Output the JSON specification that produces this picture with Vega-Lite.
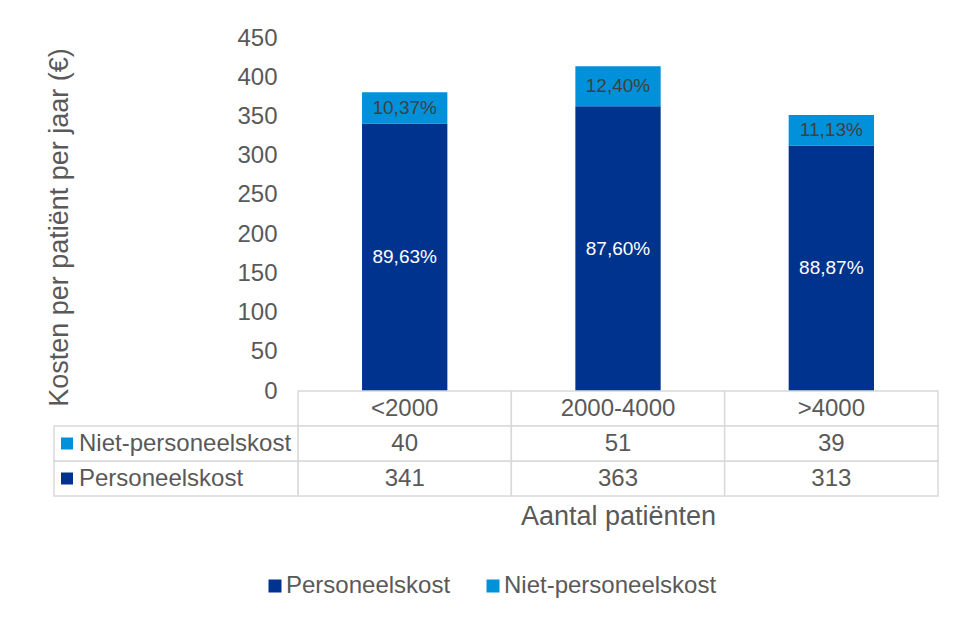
{
  "$schema": "https://vega.github.io/schema/vega-lite/v6.json",
  "background": "white",
  "autosize": {"type": "pad"},
  "padding": {"left": 45, "top": 26, "right": 5, "bottom": 5},
  "config": {"font": "Liberation Sans", "view": {"stroke": null}},
  "data": {
    "values": [
      {"cat": "<2000", "reeks": "Personeelskost", "kost": 341, "aandeel": "89,63%"},
      {"cat": "<2000", "reeks": "Niet-personeelskost", "kost": 40, "aandeel": "10,37%"},
      {"cat": "2000-4000", "reeks": "Personeelskost", "kost": 363, "aandeel": "87,60%"},
      {"cat": "2000-4000", "reeks": "Niet-personeelskost", "kost": 51, "aandeel": "12,40%"},
      {"cat": ">4000", "reeks": "Personeelskost", "kost": 313, "aandeel": "88,87%"},
      {"cat": ">4000", "reeks": "Niet-personeelskost", "kost": 39, "aandeel": "11,13%"}
    ]
  },
  "spacing": 0,
  "bounds": "flush",
  "resolve": {"scale": {"x": "independent", "y": "independent", "color": "shared"}},
  "vconcat": [
    {
      "width": 884,
      "height": 353,
      "encoding": {
        "x": {
          "field": "cat", "type": "nominal",
          "scale": {"domain": ["<2000", "2000-4000", ">4000"], "paddingInner": 0, "paddingOuter": 0.572, "align": 1},
          "axis": null
        }
      },
      "layer": [
        {
          "mark": {"type": "bar", "width": {"band": 0.4}},
          "encoding": {
            "y": {
              "field": "kost", "type": "quantitative", "stack": "zero",
              "scale": {"domain": [0, 450], "nice": false},
              "axis": {
                "values": [0, 50, 100, 150, 200, 250, 300, 350, 400, 450],
                "labelOverlap": false,
                "title": "Kosten per patiënt per jaar (€)",
                "offset": -244,
                "grid": false, "domain": false, "ticks": false,
                "labelFontSize": 24, "labelColor": "#595959", "labelPadding": 21,
                "titleFontSize": 27, "titleColor": "#595959", "titleFontWeight": "normal",
                "titleAngle": 270, "titleAlign": "center", "titleBaseline": "bottom",
                "titleX": -225, "titleY": 189
              }
            },
            "color": {
              "field": "reeks", "type": "nominal",
              "scale": {"domain": ["Personeelskost", "Niet-personeelskost"], "range": ["#00338D", "#0091DA"]},
              "legend": {
                "orient": "none", "legendX": 209, "legendY": 536, "direction": "horizontal",
                "title": null, "symbolType": "square", "symbolSize": 169, "symbolStrokeWidth": 0,
                "labelFontSize": 24, "labelColor": "#595959", "labelLimit": 400, "labelOffset": -1,
                "columnPadding": 30, "padding": 0
              }
            },
            "order": {"field": "reeks", "sort": "descending"}
          }
        },
        {
          "transform": [
            {"stack": "kost", "groupby": ["cat"], "sort": [{"field": "reeks", "order": "descending"}], "as": ["y0", "y1"]},
            {"calculate": "(datum.y0 + datum.y1) / 2", "as": "ymid"}
          ],
          "mark": {"type": "text", "fontSize": 19, "baseline": "middle"},
          "encoding": {
            "y": {
              "field": "ymid", "type": "quantitative",
              "scale": {"domain": [0, 450], "nice": false},
              "axis": {
                "values": [0, 50, 100, 150, 200, 250, 300, 350, 400, 450],
                "labelOverlap": false,
                "title": "Kosten per patiënt per jaar (€)",
                "offset": -244,
                "grid": false, "domain": false, "ticks": false,
                "labelFontSize": 24, "labelColor": "#595959", "labelPadding": 21,
                "titleFontSize": 27, "titleColor": "#595959", "titleFontWeight": "normal",
                "titleAngle": 270, "titleAlign": "center", "titleBaseline": "bottom",
                "titleX": -225, "titleY": 189
              }
            },
            "text": {"field": "aandeel"},
            "color": {"condition": {"test": "datum.reeks === 'Personeelskost'", "value": "#ffffff"}, "value": "#404040"}
          }
        }
      ]
    },
    {
      "width": 884,
      "height": 105,
      "resolve": {"scale": {"x": "independent"}},
      "layer": [
        {
          "encoding": {
            "x": {
              "field": "cat", "type": "nominal",
              "scale": {"domain": ["<2000", "2000-4000", ">4000"], "paddingInner": 0, "paddingOuter": 0.572, "align": 1},
              "axis": {
                "title": "Aantal patiënten", "labels": false, "ticks": false, "domain": false, "grid": false,
                "titleFontSize": 27, "titleColor": "#595959", "titleFontWeight": "normal",
                "titleX": 564, "titlePadding": 7
              }
            }
          },
          "layer": [
            {
              "transform": [{"filter": "datum.reeks === 'Personeelskost'"}],
              "mark": {"type": "rect", "fill": "white", "stroke": "#d9d9d9", "strokeWidth": 1.5},
              "encoding": {
                "y": {"datum": "kop", "type": "nominal", "scale": {"domain": ["kop", "Niet-personeelskost", "Personeelskost"], "paddingInner": 0, "paddingOuter": 0}, "axis": null}
              }
            },
            {
              "transform": [{"filter": "datum.reeks === 'Personeelskost'"}],
              "mark": {"type": "text", "fontSize": 24, "color": "#595959", "baseline": "middle"},
              "encoding": {
                "y": {"datum": "kop", "type": "nominal"},
                "text": {"field": "cat"}
              }
            },
            {
              "mark": {"type": "rect", "fill": "white", "stroke": "#d9d9d9", "strokeWidth": 1.5},
              "encoding": {
                "y": {"field": "reeks", "type": "nominal"}
              }
            },
            {
              "mark": {"type": "text", "fontSize": 24, "color": "#595959", "baseline": "middle"},
              "encoding": {
                "y": {"field": "reeks", "type": "nominal"},
                "text": {"field": "kost"}
              }
            }
          ]
        },
        {
          "transform": [{"filter": "datum.cat === '<2000'"}],
          "encoding": {
            "x": {
              "datum": "label", "type": "nominal",
              "scale": {"domain": ["label", "_a", "_b"], "paddingInner": 0, "paddingOuter": 0.3115, "align": 0},
              "axis": null
            },
            "y": {"field": "reeks", "type": "nominal"}
          },
          "layer": [
            {
              "mark": {"type": "rect", "fill": "white", "stroke": "#d9d9d9", "strokeWidth": 1.5}
            },
            {
              "mark": {"type": "point", "shape": "square", "filled": true, "size": 144, "opacity": 1, "xOffset": 13},
              "encoding": {
                "x": {"datum": "label", "type": "nominal", "bandPosition": 0},
                "color": {"condition": {"test": "datum.reeks === 'Personeelskost'", "value": "#00338D"}, "value": "#0091DA"}
              }
            },
            {
              "mark": {"type": "text", "fontSize": 24, "color": "#595959", "align": "left", "baseline": "middle", "dx": 25},
              "encoding": {
                "x": {"datum": "label", "type": "nominal", "bandPosition": 0},
                "text": {"field": "reeks"}
              }
            }
          ]
        }
      ]
    }
  ]
}
